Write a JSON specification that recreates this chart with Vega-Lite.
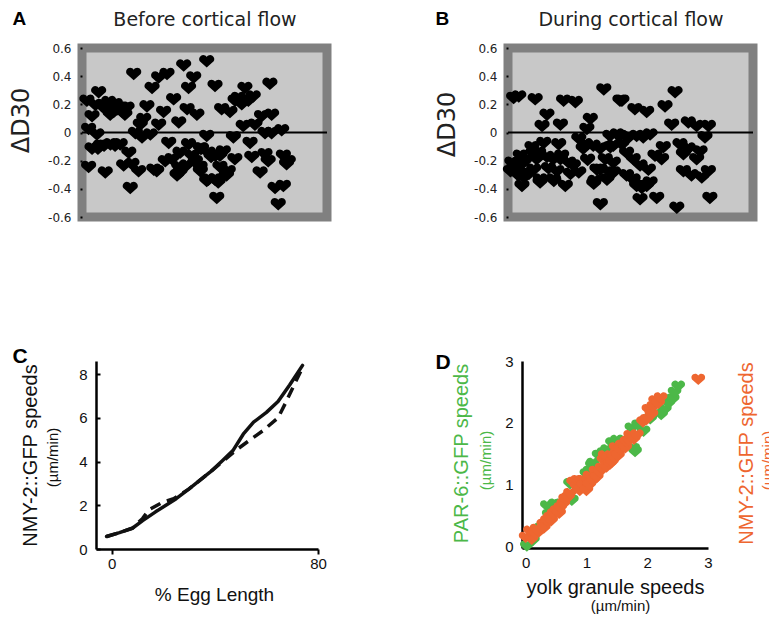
{
  "$schema": "https://vega.github.io/schema/vega-lite/v6.json",
  "usermeta": {"embedOptions": {"actions": false}},
  "autosize": {"type": "none"},
  "padding": {"left": 82, "top": 48, "right": 687, "bottom": 569},
  "background": "white",
  "config": {"view": {"stroke": null}, "axis": {"grid": false}},
  "datasets": {
    "a": [
      {"x":2.0,"y":0.22},{"x":4.1,"y":0.11},{"x":6.8,"y":0.28},{"x":8.2,"y":0.18},{"x":10.2,"y":0.15},{"x":10.9,"y":0.21},{"x":12.9,"y":0.14},{"x":13.6,"y":0.195},{"x":16.3,"y":0.17},{"x":18.4,"y":0.17},{"x":14.5,"y":0.16},{"x":11.5,"y":0.12},{"x":16.5,"y":0.14},
      {"x":21.1,"y":0.41},{"x":28.6,"y":0.31},{"x":31.3,"y":0.385},{"x":34.7,"y":0.41},{"x":41.5,"y":0.47},{"x":43.5,"y":0.31},{"x":45.6,"y":0.385},{"x":50.9,"y":0.5},
      {"x":26.5,"y":0.18},{"x":37.4,"y":0.23},{"x":33.3,"y":0.14},{"x":25.2,"y":0.09},{"x":23.8,"y":0.05},{"x":31.3,"y":0.05},{"x":39.5,"y":0.065},{"x":42.9,"y":0.16},{"x":46.9,"y":0.12},
      {"x":2.7,"y":0.02},{"x":6.1,"y":-0.02},{"x":21.8,"y":-0.01},{"x":24.5,"y":-0.04},{"x":27.9,"y":-0.02},
      {"x":4.1,"y":-0.12},{"x":7.5,"y":-0.1},{"x":11.6,"y":-0.09},{"x":15.6,"y":-0.09},{"x":19.1,"y":-0.15},{"x":9.0,"y":-0.1},{"x":13.5,"y":-0.1},{"x":35.4,"y":-0.08},{"x":43.5,"y":-0.09},{"x":48.3,"y":-0.12},{"x":40.0,"y":-0.15},{"x":44.8,"y":-0.17},
      {"x":2.7,"y":-0.25},{"x":9.5,"y":-0.29},{"x":17.0,"y":-0.24},{"x":20.4,"y":-0.23},{"x":23.1,"y":-0.28},{"x":29.3,"y":-0.27},{"x":30.5,"y":-0.28},{"x":34.0,"y":-0.21},{"x":36.7,"y":-0.195},{"x":39.5,"y":-0.25},{"x":38.8,"y":-0.31},{"x":40.0,"y":-0.29},{"x":42.7,"y":-0.24},{"x":46.3,"y":-0.21},{"x":48.3,"y":-0.28},{"x":19.7,"y":-0.4},
      {"x":54.3,"y":0.325},{"x":66.5,"y":0.31},{"x":76.7,"y":0.34},{"x":63.8,"y":0.24},{"x":69.9,"y":0.25},{"x":65.2,"y":0.195},{"x":67.9,"y":0.22},{"x":62.5,"y":0.22},{"x":57.0,"y":0.16},{"x":60.4,"y":0.14},{"x":73.3,"y":0.11},{"x":77.4,"y":0.12},{"x":65.8,"y":0.04},{"x":70.6,"y":0.05},{"x":74.7,"y":-0.01},{"x":77.4,"y":-0.01},{"x":81.5,"y":0.01},{"x":61.8,"y":-0.04},{"x":50.9,"y":-0.03},{"x":68.6,"y":-0.08},
      {"x":51.6,"y":-0.15},{"x":54.5,"y":-0.17},{"x":57.7,"y":-0.14},{"x":52.7,"y":-0.18},{"x":62.4,"y":-0.195},{"x":69.3,"y":-0.18},{"x":74.7,"y":-0.16},{"x":76.0,"y":-0.21},{"x":82.2,"y":-0.17},{"x":84.2,"y":-0.21},{"x":83.5,"y":-0.23},
      {"x":56.3,"y":-0.25},{"x":59.7,"y":-0.28},{"x":59.0,"y":-0.31},{"x":51.6,"y":-0.34},{"x":55.6,"y":-0.36},{"x":54.3,"y":-0.34},{"x":72.7,"y":-0.29},{"x":55.0,"y":-0.47},{"x":78.8,"y":-0.4},{"x":82.2,"y":-0.385},{"x":80.1,"y":-0.515},{"x":50.9,"y":-0.35},
      {"x":48.2,"y":-0.25},{"x":48.8,"y":-0.12},{"x":56.3,"y":-0.17},{"x":5.5,"y":0.19},{"x":17.5,"y":0.12},{"x":6.5,"y":-0.12}
    ],
    "b": [
      {"x":1.0,"y":-0.28},{"x":2.5,"y":-0.25},{"x":2.3,"y":0.24},{"x":4.4,"y":0.25},{"x":11.1,"y":0.23},{"x":22.7,"y":0.22},{"x":27.5,"y":0.21},{"x":15.9,"y":0.12},{"x":39.1,"y":0.3},{"x":46.5,"y":0.22},{"x":13.9,"y":0.04},{"x":21.4,"y":0.05},{"x":33.6,"y":0.09},{"x":32.2,"y":0.02},{"x":28.9,"y":-0.05},{"x":31.6,"y":-0.09},{"x":30.7,"y":-0.12},{"x":14.6,"y":-0.08},{"x":20.7,"y":-0.09},{"x":9.8,"y":-0.11},{"x":10.3,"y":-0.15},{"x":12.5,"y":-0.15},{"x":5.0,"y":-0.17},{"x":1.6,"y":-0.22},{"x":6.3,"y":-0.22},{"x":7.8,"y":-0.195},{"x":11.7,"y":-0.195},{"x":15.9,"y":-0.18},{"x":18.5,"y":-0.195},{"x":21.4,"y":-0.195},{"x":21.9,"y":-0.17},{"x":24.8,"y":-0.22},{"x":26.7,"y":-0.24},{"x":3.7,"y":-0.27},{"x":10.5,"y":-0.27},{"x":20.0,"y":-0.28},{"x":28.9,"y":-0.29},{"x":36.3,"y":-0.27},{"x":39.7,"y":-0.195},{"x":41.8,"y":-0.11},{"x":44.5,"y":-0.02},{"x":46.5,"y":-0.09},{"x":4.2,"y":-0.31},{"x":6.4,"y":-0.325},{"x":5.7,"y":-0.385},{"x":13.1,"y":-0.36},{"x":13.2,"y":-0.34},{"x":18.5,"y":-0.34},{"x":18.7,"y":-0.35},{"x":23.4,"y":-0.385},{"x":35.0,"y":-0.37},{"x":35.5,"y":-0.35},{"x":40.4,"y":-0.34},{"x":43.1,"y":-0.29},{"x":37.7,"y":-0.515},{"x":49.3,"y":-0.04},
      {"x":45.7,"y":0.22},{"x":34.8,"y":-0.1},{"x":37.6,"y":-0.12},{"x":43.0,"y":-0.1},{"x":41.6,"y":-0.03},{"x":45.7,"y":-0.03},{"x":52.5,"y":-0.03},{"x":37.6,"y":-0.27},{"x":41.6,"y":-0.29},{"x":43.0,"y":-0.22},{"x":48.4,"y":-0.15},{"x":48.4,"y":-0.31},{"x":52.5,"y":-0.385},{"x":56.6,"y":-0.385},
      {"x":68.2,"y":0.28},{"x":64.1,"y":0.18},{"x":51.8,"y":0.16},{"x":56.6,"y":0.14},{"x":66.8,"y":0.05},{"x":73.6,"y":0.065},{"x":77.0,"y":0.04},{"x":81.8,"y":0.04},{"x":80.4,"y":-0.04},{"x":55.2,"y":-0.04},{"x":58.0,"y":-0.02},{"x":70.2,"y":-0.09},{"x":73.6,"y":-0.12},{"x":78.4,"y":-0.14},{"x":63.4,"y":-0.11},{"x":60.0,"y":-0.17},{"x":62.7,"y":-0.195},{"x":77.0,"y":-0.195},{"x":71.6,"y":-0.16},{"x":51.1,"y":-0.195},{"x":53.9,"y":-0.24},{"x":57.3,"y":-0.27},{"x":71.6,"y":-0.28},{"x":74.9,"y":-0.31},{"x":79.1,"y":-0.325},{"x":81.8,"y":-0.28},{"x":51.1,"y":-0.34},{"x":54.6,"y":-0.4},{"x":58.0,"y":-0.36},{"x":53.9,"y":-0.48},{"x":60.7,"y":-0.47},{"x":68.9,"y":-0.54},{"x":82.4,"y":-0.47},
      {"x":8.5,"y":-0.3},{"x":16.5,"y":-0.26},{"x":25.5,"y":-0.3},{"x":32.5,"y":-0.2}
    ],
    "c": [
      {"s":"solid","x":-2,"y":0.57},{"s":"solid","x":3,"y":0.75},{"s":"solid","x":8,"y":0.95},{"s":"solid","x":12,"y":1.3},{"s":"solid","x":17,"y":1.7},{"s":"solid","x":25,"y":2.3},{"s":"solid","x":30,"y":2.75},{"s":"solid","x":38,"y":3.5},{"s":"solid","x":43,"y":4.05},{"s":"solid","x":47,"y":4.5},{"s":"solid","x":51,"y":5.25},{"s":"solid","x":55,"y":5.8},{"s":"solid","x":60,"y":6.25},{"s":"solid","x":64.5,"y":6.75},{"s":"solid","x":69,"y":7.5},{"s":"solid","x":74,"y":8.4},
      {"s":"dashed","x":-2,"y":0.57},{"s":"dashed","x":3,"y":0.75},{"s":"dashed","x":8,"y":0.95},{"s":"dashed","x":12,"y":1.4},{"s":"dashed","x":14.5,"y":1.8},{"s":"dashed","x":20,"y":2.15},{"s":"dashed","x":24,"y":2.3},{"s":"dashed","x":30,"y":2.75},{"s":"dashed","x":38,"y":3.5},{"s":"dashed","x":43,"y":4.0},{"s":"dashed","x":48,"y":4.5},{"s":"dashed","x":52,"y":4.85},{"s":"dashed","x":58.5,"y":5.4},{"s":"dashed","x":64.5,"y":6.0},{"s":"dashed","x":67.5,"y":6.7},{"s":"dashed","x":70.5,"y":7.45},{"s":"dashed","x":74,"y":8.3}
    ],
    "d": [
      {"g":"PAR","x":0.02,"y":-0.01},{"g":"PAR","x":0.12,"y":0.08},{"g":"PAR","x":0.25,"y":0.28},{"g":"PAR","x":0.38,"y":0.5},{"g":"PAR","x":0.35,"y":0.64},{"g":"PAR","x":0.48,"y":0.67},{"g":"PAR","x":0.55,"y":0.66},{"g":"PAR","x":0.76,"y":0.73},{"g":"PAR","x":0.73,"y":1.0},{"g":"PAR","x":1.0,"y":1.16},{"g":"PAR","x":1.05,"y":1.2},{"g":"PAR","x":1.09,"y":1.3},{"g":"PAR","x":1.11,"y":1.33},
      {"g":"PAR","x":1.2,"y":1.46},{"g":"PAR","x":1.28,"y":1.5},{"g":"PAR","x":1.34,"y":1.55},{"g":"PAR","x":1.42,"y":1.66},{"g":"PAR","x":1.5,"y":1.7},{"g":"PAR","x":1.61,"y":1.7},{"g":"PAR","x":1.8,"y":1.52},{"g":"PAR","x":1.77,"y":1.57},{"g":"PAR","x":1.74,"y":1.9},{"g":"PAR","x":1.85,"y":1.95},{"g":"PAR","x":1.94,"y":1.85},{"g":"PAR","x":2.05,"y":2.05},{"g":"PAR","x":2.23,"y":2.12},{"g":"PAR","x":2.29,"y":2.2},{"g":"PAR","x":2.35,"y":2.3},{"g":"PAR","x":2.42,"y":2.37},{"g":"PAR","x":2.45,"y":2.48},{"g":"PAR","x":2.51,"y":2.58},
      {"g":"NMY","x":0.0,"y":0.13},{"g":"NMY","x":0.1,"y":0.1},{"g":"NMY","x":0.07,"y":0.23},{"g":"NMY","x":0.15,"y":0.2},{"g":"NMY","x":0.18,"y":0.26},{"g":"NMY","x":0.22,"y":0.22},{"g":"NMY","x":0.29,"y":0.34},{"g":"NMY","x":0.3,"y":0.28},{"g":"NMY","x":0.35,"y":0.4},{"g":"NMY","x":0.4,"y":0.45},{"g":"NMY","x":0.42,"y":0.4},{"g":"NMY","x":0.46,"y":0.51},{"g":"NMY","x":0.51,"y":0.56},{"g":"NMY","x":0.55,"y":0.52},{"g":"NMY","x":0.57,"y":0.61},{"g":"NMY","x":0.62,"y":0.67},{"g":"NMY","x":0.65,"y":0.75},{"g":"NMY","x":0.7,"y":0.78},{"g":"NMY","x":0.73,"y":0.84},{"g":"NMY","x":0.78,"y":1.02},{"g":"NMY","x":0.84,"y":0.95},{"g":"NMY","x":0.85,"y":1.05},{"g":"NMY","x":0.89,"y":0.89},{"g":"NMY","x":0.92,"y":1.05},{"g":"NMY","x":0.95,"y":0.97},{"g":"NMY","x":1.0,"y":0.89},{"g":"NMY","x":1.05,"y":0.98},{"g":"NMY","x":1.05,"y":1.12},{"g":"NMY","x":1.11,"y":1.05},
      {"g":"NMY","x":1.15,"y":1.2},{"g":"NMY","x":1.17,"y":1.1},{"g":"NMY","x":1.22,"y":1.19},{"g":"NMY","x":1.25,"y":1.25},{"g":"NMY","x":1.28,"y":1.38},{"g":"NMY","x":1.3,"y":1.45},{"g":"NMY","x":1.33,"y":1.27},{"g":"NMY","x":1.36,"y":1.42},{"g":"NMY","x":1.39,"y":1.32},{"g":"NMY","x":1.42,"y":1.35},{"g":"NMY","x":1.44,"y":1.44},{"g":"NMY","x":1.48,"y":1.58},{"g":"NMY","x":1.5,"y":1.5},{"g":"NMY","x":1.52,"y":1.45},{"g":"NMY","x":1.55,"y":1.55},{"g":"NMY","x":1.58,"y":1.62},{"g":"NMY","x":1.61,"y":1.62},{"g":"NMY","x":1.64,"y":1.58},{"g":"NMY","x":1.66,"y":1.68},{"g":"NMY","x":1.7,"y":1.7},{"g":"NMY","x":1.72,"y":1.78},{"g":"NMY","x":1.78,"y":1.72},{"g":"NMY","x":1.83,"y":1.79},{"g":"NMY","x":1.93,"y":2.0},{"g":"NMY","x":1.99,"y":2.04},{"g":"NMY","x":2.02,"y":2.2},{"g":"NMY","x":2.07,"y":2.12},{"g":"NMY","x":2.1,"y":2.25},{"g":"NMY","x":2.13,"y":2.34},{"g":"NMY","x":2.18,"y":2.3},{"g":"NMY","x":2.22,"y":2.39},{"g":"NMY","x":2.84,"y":2.69}
    ]
  },
  "bounds": "flush",
  "spacing": 313,
  "vconcat": [
    {
      "bounds": "flush",
      "spacing": 181,
      "hconcat": [
        {
          "width": 245, "height": 169,
          "view": {"fill": "#c8c8c8", "stroke": "#808080", "strokeWidth": 9},
          "layer": [
            {
              "data": {"name": "a"},
              "mark": {"type": "point", "shape": "M0,0.75 L-0.95,-0.1 A0.5,0.5 0 0 1 0,-0.7 A0.5,0.5 0 0 1 0.95,-0.1 Z", "filled": true, "color": "#000", "opacity": 1, "size": 215, "strokeWidth": 0},
              "encoding": {
                "x": {"field": "x", "type": "quantitative", "scale": {"domain": [0, 100], "nice": false, "zero": false},
                  "axis": {"orient": "top", "domain": false, "ticks": false, "labels": false, "title": "Before cortical flow", "titleFont": "DejaVu Sans", "titleFontSize": 19, "titleFontWeight": "normal", "titleColor": "#222", "titleY": -23, "titleBaseline": "alphabetic"}},
                "y": {"field": "y", "type": "quantitative", "scale": {"domain": [-0.6, 0.6], "nice": false, "zero": false},
                  "axis": {"orient": "left", "values": [-0.6, -0.4, -0.2, 0, 0.2, 0.4, 0.6], "labelExpr": "datum.value == 0 ? '0' : (datum.value < 0 ? '-' : '') + format(abs(datum.value), '.1f')", "domain": false, "ticks": true, "tickSize": 2, "tickWidth": 2, "tickColor": "#000", "labelPadding": 9, "labelFont": "DejaVu Sans", "labelFontSize": 12, "labelColor": "#222", "title": "ΔD30", "titleFont": "DejaVu Sans", "titleFontSize": 24, "titleFontWeight": "normal", "titleColor": "#222", "titleAngle": 270, "titleAlign": "center", "titleBaseline": "alphabetic", "titleX": -54, "titleY": 72}}
              }
            },
            {
              "data": {"values": [{}]},
              "mark": {"type": "rule", "color": "#000", "strokeWidth": 2},
              "encoding": {
                "y": {"datum": 0, "type": "quantitative",
                  "axis": {"orient": "left", "domain": false, "ticks": false, "labels": false, "title": "A", "titleFont": "Liberation Sans", "titleFontSize": 19, "titleFontWeight": "bold", "titleColor": "#000", "titleAngle": 0, "titleAlign": "left", "titleBaseline": "alphabetic", "titleX": -70, "titleY": -24}}
              }
            }
          ],
          "resolve": {"axis": {"y": "independent"}}
        },
        {
          "width": 245, "height": 169,
          "view": {"fill": "#c8c8c8", "stroke": "#808080", "strokeWidth": 9},
          "layer": [
            {
              "data": {"name": "b"},
              "mark": {"type": "point", "shape": "M0,0.75 L-0.95,-0.1 A0.5,0.5 0 0 1 0,-0.7 A0.5,0.5 0 0 1 0.95,-0.1 Z", "filled": true, "color": "#000", "opacity": 1, "size": 215, "strokeWidth": 0},
              "encoding": {
                "x": {"field": "x", "type": "quantitative", "scale": {"domain": [0, 100], "nice": false, "zero": false},
                  "axis": {"orient": "top", "domain": false, "ticks": false, "labels": false, "title": "During cortical flow", "titleFont": "DejaVu Sans", "titleFontSize": 19, "titleFontWeight": "normal", "titleColor": "#222", "titleY": -23, "titleBaseline": "alphabetic"}},
                "y": {"field": "y", "type": "quantitative", "scale": {"domain": [-0.6, 0.6], "nice": false, "zero": false},
                  "axis": {"orient": "left", "values": [-0.6, -0.4, -0.2, 0, 0.2, 0.4, 0.6], "labelExpr": "datum.value == 0 ? '0' : (datum.value < 0 ? '-' : '') + format(abs(datum.value), '.1f')", "domain": false, "ticks": true, "tickSize": 2, "tickWidth": 2, "tickColor": "#000", "labelPadding": 9, "labelFont": "DejaVu Sans", "labelFontSize": 12, "labelColor": "#222", "title": "ΔD30", "titleFont": "DejaVu Sans", "titleFontSize": 24, "titleFontWeight": "normal", "titleColor": "#222", "titleAngle": 270, "titleAlign": "center", "titleBaseline": "alphabetic", "titleX": -54, "titleY": 76}}
              }
            },
            {
              "data": {"values": [{}]},
              "mark": {"type": "rule", "color": "#000", "strokeWidth": 2},
              "encoding": {
                "y": {"datum": 0, "type": "quantitative",
                  "axis": {"orient": "left", "domain": false, "ticks": false, "labels": false, "title": "B", "titleFont": "Liberation Sans", "titleFontSize": 19, "titleFontWeight": "bold", "titleColor": "#000", "titleAngle": 0, "titleAlign": "left", "titleBaseline": "alphabetic", "titleX": -73, "titleY": -24}}
              }
            }
          ],
          "resolve": {"axis": {"y": "independent"}}
        }
      ]
    },
    {
      "bounds": "flush",
      "spacing": 0,
      "hconcat": [
        {"width": 14, "height": 10, "data": {"values": []}, "mark": {"type": "point", "opacity": 0}},
        {
          "width": 222, "height": 188,
          "data": {"name": "c"},
          "layer": [
            {
              "transform": [{"filter": "datum.s === 'solid'"}],
              "mark": {"type": "line", "color": "#111", "strokeWidth": 3.5, "strokeCap": "round", "strokeJoin": "round"},
              "encoding": {
                "x": {"field": "x", "type": "quantitative", "scale": {"domain": [-6.1, 80], "nice": false, "zero": false},
                  "axis": {"orient": "bottom", "values": [0, 80], "domain": true, "domainColor": "#000", "domainWidth": 2.5, "ticks": true, "tickSize": 5, "tickWidth": 2, "tickColor": "#000", "labelPadding": 2, "labelFont": "Liberation Sans", "labelFontSize": 15, "labelColor": "#111", "labelFlush": false, "title": "% Egg Length", "titleFont": "Liberation Sans", "titleFontSize": 19, "titleFontWeight": "normal", "titleColor": "#111", "titleX": 118, "titleY": 51, "titleAlign": "center", "titleBaseline": "alphabetic"}},
                "y": {"field": "y", "type": "quantitative", "scale": {"domain": [0, 8.6], "nice": false, "zero": false},
                  "axis": {"orient": "left", "values": [0, 2, 4, 6, 8], "domain": true, "domainColor": "#000", "domainWidth": 2.5, "ticks": true, "tickSize": -4, "tickWidth": 2, "tickColor": "#000", "labelPadding": 13, "labelFont": "Liberation Sans", "labelFontSize": 15, "labelColor": "#111", "title": "NMY-2::GFP speeds", "titleFont": "Liberation Sans", "titleFontSize": 20, "titleFontWeight": "normal", "titleColor": "#111", "titleAngle": 270, "titleAlign": "center", "titleBaseline": "alphabetic", "titleX": -60, "titleY": 94}}
              }
            },
            {
              "transform": [{"filter": "datum.s === 'dashed'"}],
              "mark": {"type": "line", "color": "#111", "strokeWidth": 3.5, "strokeDash": [11, 7]},
              "encoding": {
                "x": {"field": "x", "type": "quantitative",
                  "axis": {"orient": "top", "domain": false, "ticks": false, "labels": false, "title": "C", "titleFont": "Liberation Sans", "titleFontSize": 21, "titleFontWeight": "bold", "titleColor": "#000", "titleAngle": 0, "titleAlign": "left", "titleBaseline": "alphabetic", "titleX": -84, "titleY": 1}},
                "y": {"field": "y", "type": "quantitative",
                  "axis": {"orient": "left", "domain": false, "ticks": false, "labels": false, "title": "(µm/min)", "titleFont": "Liberation Sans", "titleFontSize": 15, "titleFontWeight": "normal", "titleColor": "#111", "titleAngle": 270, "titleAlign": "center", "titleBaseline": "alphabetic", "titleX": -39, "titleY": 96}}
              }
            }
          ],
          "resolve": {"axis": {"x": "independent", "y": "independent"}}
        },
        {"width": 204, "height": 10, "data": {"values": []}, "mark": {"type": "point", "opacity": 0}},
        {
          "width": 186, "height": 187,
          "data": {"name": "d"},
          "layer": [
            {
              "transform": [{"filter": "datum.g === 'PAR' && datum.x < 1.15"}],
              "mark": {"type": "point", "shape": "M0,0.75 L-0.95,-0.1 A0.5,0.5 0 0 1 0,-0.7 A0.5,0.5 0 0 1 0.95,-0.1 Z", "filled": true, "color": "#4cb848", "opacity": 1, "size": 175, "strokeWidth": 0},
              "encoding": {
                "x": {"field": "x", "type": "quantitative", "scale": {"domain": [-0.06, 3], "nice": false, "zero": false},
                  "axis": {"orient": "bottom", "values": [0, 1, 2, 3], "domain": true, "domainColor": "#000", "domainWidth": 2.5, "ticks": false, "labelPadding": 7, "labelFont": "Liberation Sans", "labelFontSize": 15, "labelColor": "#111", "labelFlush": false, "title": "yolk granule speeds", "titleFont": "Liberation Sans", "titleFontSize": 20, "titleFontWeight": "normal", "titleColor": "#111", "titleX": 93, "titleY": 45, "titleAlign": "center", "titleBaseline": "alphabetic"}},
                "y": {"field": "y", "type": "quantitative", "scale": {"domain": [-0.03, 3], "nice": false, "zero": false},
                  "axis": {"orient": "left", "values": [0, 1, 2, 3], "domain": true, "domainColor": "#000", "domainWidth": 2.5, "ticks": false, "labelPadding": 9, "labelFont": "Liberation Sans", "labelFontSize": 15, "labelColor": "#111", "title": "PAR-6::GFP speeds", "titleFont": "Liberation Sans", "titleFontSize": 20, "titleFontWeight": "normal", "titleColor": "#4cb848", "titleAngle": 270, "titleAlign": "center", "titleBaseline": "alphabetic", "titleX": -55, "titleY": 92}}
              }
            },
            {
              "transform": [{"filter": "datum.g === 'PAR' && datum.x >= 1.15"}],
              "mark": {"type": "point", "shape": "M0,0.75 L-0.95,-0.1 A0.5,0.5 0 0 1 0,-0.7 A0.5,0.5 0 0 1 0.95,-0.1 Z", "filled": true, "color": "#4cb848", "opacity": 1, "size": 175, "strokeWidth": 0},
              "encoding": {
                "x": {"field": "x", "type": "quantitative",
                  "axis": {"orient": "bottom", "domain": false, "ticks": false, "labels": false, "title": "(µm/min)", "titleFont": "Liberation Sans", "titleFontSize": 15, "titleFontWeight": "normal", "titleColor": "#111", "titleX": 98, "titleY": 62, "titleAlign": "center", "titleBaseline": "alphabetic"}},
                "y": {"field": "y", "type": "quantitative",
                  "axis": {"orient": "left", "domain": false, "ticks": false, "labels": false, "title": "(µm/min)", "titleFont": "Liberation Sans", "titleFontSize": 15, "titleFontWeight": "normal", "titleColor": "#4cb848", "titleAngle": 270, "titleAlign": "center", "titleBaseline": "alphabetic", "titleX": -32, "titleY": 99}}
              }
            },
            {
              "transform": [{"filter": "datum.g === 'NMY' && datum.x < 1.15"}],
              "mark": {"type": "point", "shape": "M0,0.75 L-0.95,-0.1 A0.5,0.5 0 0 1 0,-0.7 A0.5,0.5 0 0 1 0.95,-0.1 Z", "filled": true, "color": "#ee6630", "opacity": 1, "size": 175, "strokeWidth": 0},
              "encoding": {
                "x": {"field": "x", "type": "quantitative",
                  "axis": {"orient": "top", "domain": false, "ticks": false, "labels": false, "title": "D", "titleFont": "Liberation Sans", "titleFontSize": 21, "titleFontWeight": "bold", "titleColor": "#000", "titleAngle": 0, "titleAlign": "left", "titleBaseline": "alphabetic", "titleX": -87, "titleY": 7}},
                "y": {"field": "y", "type": "quantitative",
                  "axis": {"orient": "right", "domain": false, "ticks": false, "labels": false, "title": "NMY-2::GFP speeds", "titleFont": "Liberation Sans", "titleFontSize": 20, "titleFontWeight": "normal", "titleColor": "#ee6630", "titleAngle": 270, "titleAlign": "center", "titleBaseline": "alphabetic", "titleX": 44, "titleY": 92}}
              }
            },
            {
              "transform": [{"filter": "datum.g === 'NMY' && datum.x >= 1.15"}],
              "mark": {"type": "point", "shape": "M0,0.75 L-0.95,-0.1 A0.5,0.5 0 0 1 0,-0.7 A0.5,0.5 0 0 1 0.95,-0.1 Z", "filled": true, "color": "#ee6630", "opacity": 1, "size": 175, "strokeWidth": 0},
              "encoding": {
                "x": {"field": "x", "type": "quantitative", "axis": null},
                "y": {"field": "y", "type": "quantitative",
                  "axis": {"orient": "right", "domain": false, "ticks": false, "labels": false, "title": "(µm/min)", "titleFont": "Liberation Sans", "titleFontSize": 15, "titleFontWeight": "normal", "titleColor": "#ee6630", "titleAngle": 270, "titleAlign": "center", "titleBaseline": "alphabetic", "titleX": 64, "titleY": 99}}
              }
            }
          ],
          "resolve": {"axis": {"x": "independent", "y": "independent"}}
        }
      ]
    }
  ]
}
